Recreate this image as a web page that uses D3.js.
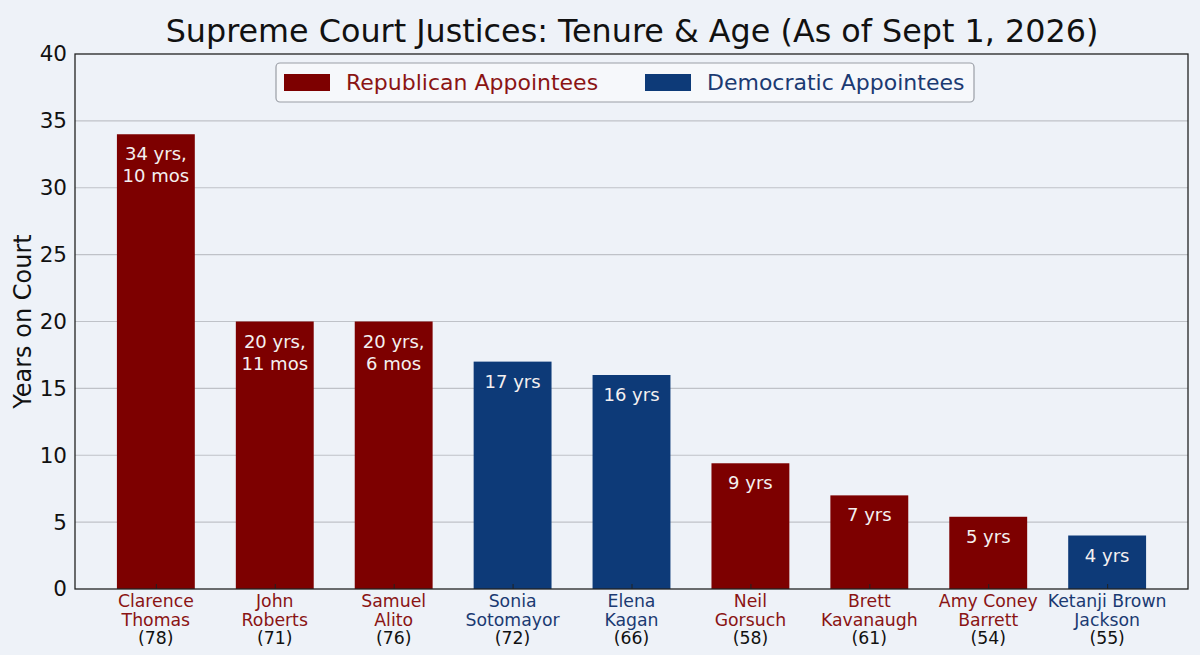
<!DOCTYPE html>
<html>
<head>
<meta charset="utf-8">
<script src="https://cdn.jsdelivr.net/npm/d3@7"></script>
<style>
  body { margin: 0; background: #eef2f8; }
  svg { display: block; font-family: "DejaVu Sans", sans-serif; }
</style>
</head>
<body>
<svg id="chart"></svg>
<script>
const firstNames = ["Clarence", "John", "Samuel", "Sonia", "Elena", "Neil", "Brett", "Amy Coney", "Ketanji Brown"];
const lastNames = ["Thomas", "Roberts", "Alito", "Sotomayor", "Kagan", "Gorsuch", "Kavanaugh", "Barrett", "Jackson"];
const ages = [78, 71, 76, 72, 66, 58, 61, 54, 55];
const tenureYears = [34, 20, 20, 17, 16, 9.4, 7, 5.4, 4];
const tenureLabels = [["34 yrs,", "10 mos"], ["20 yrs,", "11 mos"], ["20 yrs,", "6 mos"], ["17 yrs"], ["16 yrs"], ["9 yrs"], ["7 yrs"], ["5 yrs"], ["4 yrs"]];
const party = ["R", "R", "R", "D", "D", "R", "R", "R", "D"];
const yTicks = [0, 5, 10, 15, 20, 25, 30, 35, 40];

const width = 1200, height = 655;
const margin = { left: 75, right: 12, top: 54, bottom: 66 };

const barColor = { R: "#7d0000", D: "#0d3a78" };
const textColor = { R: "#8a1414", D: "#1b3a72" };

const svg = d3.select("#chart").attr("width", width).attr("height", height);

const x = d3.scaleLinear().domain([-0.68, 8.68]).range([margin.left, width - margin.right]);
const y = d3.scaleLinear().domain([0, 40]).range([height - margin.bottom, margin.top]);
const barW = x(0.655) - x(0);

// grid
svg.append("g").selectAll("line")
    .data(yTicks.slice(1, -1))
    .enter().append("line")
    .attr("x1", margin.left).attr("x2", width - margin.right)
    .attr("y1", d => y(d)).attr("y2", d => y(d))
    .style("stroke", "#bfc2c8").style("stroke-width", 1.2);

// bars
svg.append("g").selectAll("rect")
    .data(tenureYears)
    .enter().append("rect")
    .attr("x", (d, i) => x(i) - barW / 2)
    .attr("y", d => y(d))
    .attr("width", barW)
    .attr("height", d => y(0) - y(d))
    .style("fill", (d, i) => barColor[party[i]]);

// labels inside bars
tenureLabels.forEach((lines, i) => {
    const t = svg.append("text")
        .attr("x", x(i))
        .attr("y", y(tenureYears[i]) + 26)
        .attr("text-anchor", "middle")
        .style("fill", "#f4f0f0")
        .style("font-size", "18px");
    lines.forEach((line, k) => {
        t.append("tspan").attr("x", x(i)).attr("dy", k === 0 ? 0 : 22).text(line);
    });
});

// frame
svg.append("rect")
    .attr("x", margin.left).attr("y", margin.top)
    .attr("width", width - margin.left - margin.right)
    .attr("height", height - margin.top - margin.bottom)
    .style("fill", "none").style("stroke", "#222").style("stroke-width", 1.3);

// y axis
const yAxis = d3.axisLeft(y).tickValues(yTicks).tickSize(0).tickPadding(8);
const gy = svg.append("g").attr("transform", `translate(${margin.left},0)`).call(yAxis);
gy.select(".domain").remove();
gy.selectAll("text").style("font-size", "21.5px").style("fill", "#111").style("font-family", "DejaVu Sans, sans-serif");

// x ticks (inward) and labels
const xAxis = d3.axisBottom(x).tickValues(d3.range(firstNames.length)).tickSize(-5).tickFormat("");
const gx = svg.append("g").attr("transform", `translate(0,${y(0)})`).call(xAxis);
gx.select(".domain").remove();
gx.selectAll("line").style("stroke", "#222");

firstNames.forEach((name, i) => {
    const t = svg.append("text")
        .attr("x", x(i))
        .attr("y", y(0) + 18)
        .attr("text-anchor", "middle")
        .style("font-size", "17.3px");
    t.append("tspan").attr("x", x(i)).style("fill", textColor[party[i]]).text(name);
    t.append("tspan").attr("x", x(i)).attr("dy", 18.5).style("fill", textColor[party[i]]).text(lastNames[i]);
    t.append("tspan").attr("x", x(i)).attr("dy", 18.5).style("fill", "#111").text(`(${ages[i]})`);
});

// y label
svg.append("text")
    .attr("transform", `translate(31,${(margin.top + y(0)) / 2}) rotate(-90)`)
    .attr("text-anchor", "middle")
    .style("font-size", "24px")
    .style("fill", "#111")
    .text("Years on Court");

// title
svg.append("text")
    .attr("x", 632).attr("y", 42)
    .attr("text-anchor", "middle")
    .style("font-size", "31.8px")
    .style("fill", "#111")
    .text("Supreme Court Justices: Tenure & Age (As of Sept 1, 2026)");

// legend
const legend = svg.append("g");
legend.append("rect")
    .attr("x", 276).attr("y", 63).attr("width", 698).attr("height", 39).attr("rx", 4)
    .style("fill", "#f6f8fb").style("stroke", "#9a9ea6").style("stroke-width", 1.2);
const legendItems = [
    { key: "R", label: "Republican Appointees", x: 284 },
    { key: "D", label: "Democratic Appointees", x: 645 }
];
legendItems.forEach(item => {
    legend.append("rect")
        .attr("x", item.x).attr("y", 74).attr("width", 46).attr("height", 17)
        .style("fill", barColor[item.key]);
    legend.append("text")
        .attr("x", item.x + 62).attr("y", 90)
        .style("font-size", "22px")
        .style("fill", textColor[item.key])
        .text(item.label);
});
</script>
</body>
</html>
